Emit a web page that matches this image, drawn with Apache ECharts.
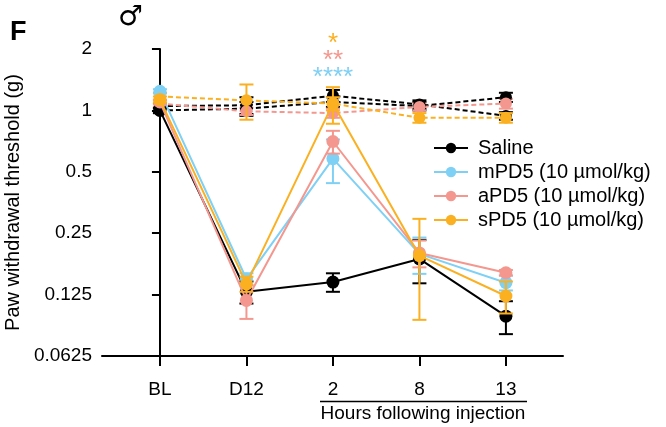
<!DOCTYPE html>
<html>
<head>
<meta charset="utf-8">
<script src="https://cdn.jsdelivr.net/npm/echarts@6/dist/echarts.min.js"></script>
<style>html,body{margin:0;padding:0;background:#fff}#c{width:666px;height:427px}</style>
</head>
<body>
<div id="c"></div>
<script>
var categories = ['BL', 'D12', '2', '8', '13'];
var yTicks = [0.0625, 0.125, 0.25, 0.5, 1, 2];

// ipsilateral (solid)
var saline = [1.0, 0.129, 0.144, 0.187, 0.098];
var salineErr = [0.03, 0.016, 0.015, 0.045, 0.018];
var mPD5 = [1.24, 0.149, 0.58, 0.198, 0.143];
var mPD5Err = [0.03, 0.01, 0.14, 0.04, 0.012];
var aPD5 = [1.1, 0.117, 0.704, 0.2, 0.16];
var aPD5Err = [0.03, 0.022, 0.09, 0.03, 0.005];
var sPD5 = [1.13, 0.141, 1.08, 0.194, 0.123];
var sPD5Err = [0.04, 0.012, 0.22, 0.1, 0.022];

// contralateral (dashed)
var salineC1 = [1.05, 1.06, 1.18, 1.07, 0.94];
var salineC1Err = [0.03, 0.1, 0.08, 0.05, 0.04];
var salineC2 = [1.0, 1.02, 1.1, 1.05, 1.16];
var salineC2Err = [0.03, 0.08, 0.06, 0.05, 0.06];
var aPD5C = [1.08, 0.99, 0.97, 1.04, 1.08];
var aPD5CErr = [0.04, 0.04, 0.05, 0.04, 0.06];
var sPD5C = [1.17, 1.12, 1.08, 0.92, 0.92];
var sPD5CErr = [0.05, 0.22, 0.08, 0.05, 0.05];

var C = {black: '#000000', blue: '#7fd0f5', pink: '#f4978e', orange: '#fbb021'};

function pts(arr) { return arr.map(function (v, i) { return [i, v]; }); }
function errData(arr, err) { return arr.map(function (v, i) { return [i, v - err[i], v + err[i]]; }); }

function lineSeries(name, arr, color, dashed, z) {
  return {
    type: 'line', name: name, data: pts(arr), z: z,
    symbol: 'circle', symbolSize: dashed ? 12 : 13,
    itemStyle: {color: color},
    lineStyle: {color: color, width: 2, type: dashed ? [5, 3] : 'solid'},
    emphasis: {disabled: true}, animation: false
  };
}
function errSeries(arr, err, color, z) {
  return {
    type: 'custom', data: errData(arr, err), z: z, silent: true, animation: false,
    renderItem: function (params, api) {
      var x = api.value(0);
      var lo = api.coord([x, api.value(1)]);
      var hi = api.coord([x, api.value(2)]);
      var w = 7;
      var st = {stroke: color, lineWidth: 2};
      return {type: 'group', children: [
        {type: 'line', shape: {x1: lo[0], y1: lo[1], x2: hi[0], y2: hi[1]}, style: st},
        {type: 'line', shape: {x1: lo[0] - w, y1: lo[1], x2: lo[0] + w, y2: lo[1]}, style: st},
        {type: 'line', shape: {x1: hi[0] - w, y1: hi[1], x2: hi[0] + w, y2: hi[1]}, style: st}
      ]};
    }
  };
}

var series = [
  errSeries(salineC1, salineC1Err, C.black, 2), lineSeries('SalineC1', salineC1, C.black, true, 3),
  errSeries(salineC2, salineC2Err, C.black, 2), lineSeries('SalineC2', salineC2, C.black, true, 3),
  errSeries(aPD5C, aPD5CErr, C.pink, 2), lineSeries('aPD5C', aPD5C, C.pink, true, 3),
  errSeries(sPD5C, sPD5CErr, C.orange, 4), lineSeries('sPD5C', sPD5C, C.orange, true, 5),
  errSeries(saline, salineErr, C.black, 6), lineSeries('Saline', saline, C.black, false, 7),
  errSeries(mPD5, mPD5Err, C.blue, 8), lineSeries('mPD5 (10 µmol/kg)', mPD5, C.blue, false, 9),
  errSeries(aPD5, aPD5Err, C.pink, 10), lineSeries('aPD5 (10 µmol/kg)', aPD5, C.pink, false, 11),
  errSeries(sPD5, sPD5Err, C.orange, 12), lineSeries('sPD5 (10 µmol/kg)', sPD5, C.orange, false, 13)
];

var font = 'Liberation Sans, Arial, sans-serif';
var chart = echarts.init(document.getElementById('c'), null, {renderer: 'canvas'});
chart.setOption({
  animation: false,
  textStyle: {fontFamily: font},
  grid: {left: 102, right: 103, top: 49, bottom: 71, containLabel: false, outerBoundsMode: 'none'},
  legend: {
    data: ['Saline', 'mPD5 (10 µmol/kg)', 'aPD5 (10 µmol/kg)', 'sPD5 (10 µmol/kg)'],
    orient: 'vertical', left: 428, top: 133, itemWidth: 34, itemHeight: 13, itemGap: 4,
    textStyle: {fontSize: 20, color: '#000', fontFamily: font, padding: [0, 0, 0, 5]},
    selectedMode: false
  },
  xAxis: {
    type: 'value', min: -0.67, max: 4.66,
    axisLine: {lineStyle: {color: '#000', width: 2}},
    axisTick: {show: true, length: 10, lineStyle: {color: '#000', width: 2}, customValues: [0, 1, 2, 3, 4]},
    axisLabel: {customValues: [0, 1, 2, 3, 4], margin: 24, fontSize: 19, color: '#000',
      formatter: function (v) { return categories[Math.round(v)]; }},
    splitLine: {show: false}
  },
  yAxis: {
    type: 'log', logBase: 2, min: yTicks[0], max: yTicks[yTicks.length - 1],
    name: 'Paw withdrawal threshold (g)', nameLocation: 'middle', nameGap: 79,
    nameTextStyle: {fontSize: 20, color: '#000', fontFamily: font},
    axisLine: {show: true, lineStyle: {color: '#000', width: 2}},
    axisTick: {show: true, length: 8, lineStyle: {color: '#000', width: 2}},
    axisLabel: {fontSize: 19, color: '#000', margin: 10,
      formatter: function (v) { var r = yTicks.filter(function (t) { return Math.abs(t - v) < 1e-6; }); return r.length ? String(r[0]) : ''; }},
    splitLine: {show: false}
  },
  graphic: [
    {type: 'text', left: 10, top: 19, style: {text: 'F', font: 'bold 27px ' + font, fill: '#000'}},
    {type: 'text', left: 118, top: 4, style: {text: '♂', font: '28px DejaVu Sans, sans-serif', fill: '#000'}},
    {type: 'text', x: 333, y: 44, style: {text: '*', font: '26px ' + font, fill: C.orange, align: 'center', verticalAlign: 'middle'}},
    {type: 'text', x: 333, y: 61, style: {text: '**', font: '26px ' + font, fill: C.pink, align: 'center', verticalAlign: 'middle'}},
    {type: 'text', x: 333, y: 78, style: {text: '****', font: '26px ' + font, fill: C.blue, align: 'center', verticalAlign: 'middle'}},
    {type: 'line', shape: {x1: 320, y1: 401.5, x2: 527, y2: 401.5}, style: {stroke: '#000', lineWidth: 1.5}},
    {type: 'text', x: 423, y: 414, style: {text: 'Hours following injection', font: '19px ' + font, fill: '#000', align: 'center', verticalAlign: 'middle'}}
  ],
  series: series
});
</script>
</body>
</html>
